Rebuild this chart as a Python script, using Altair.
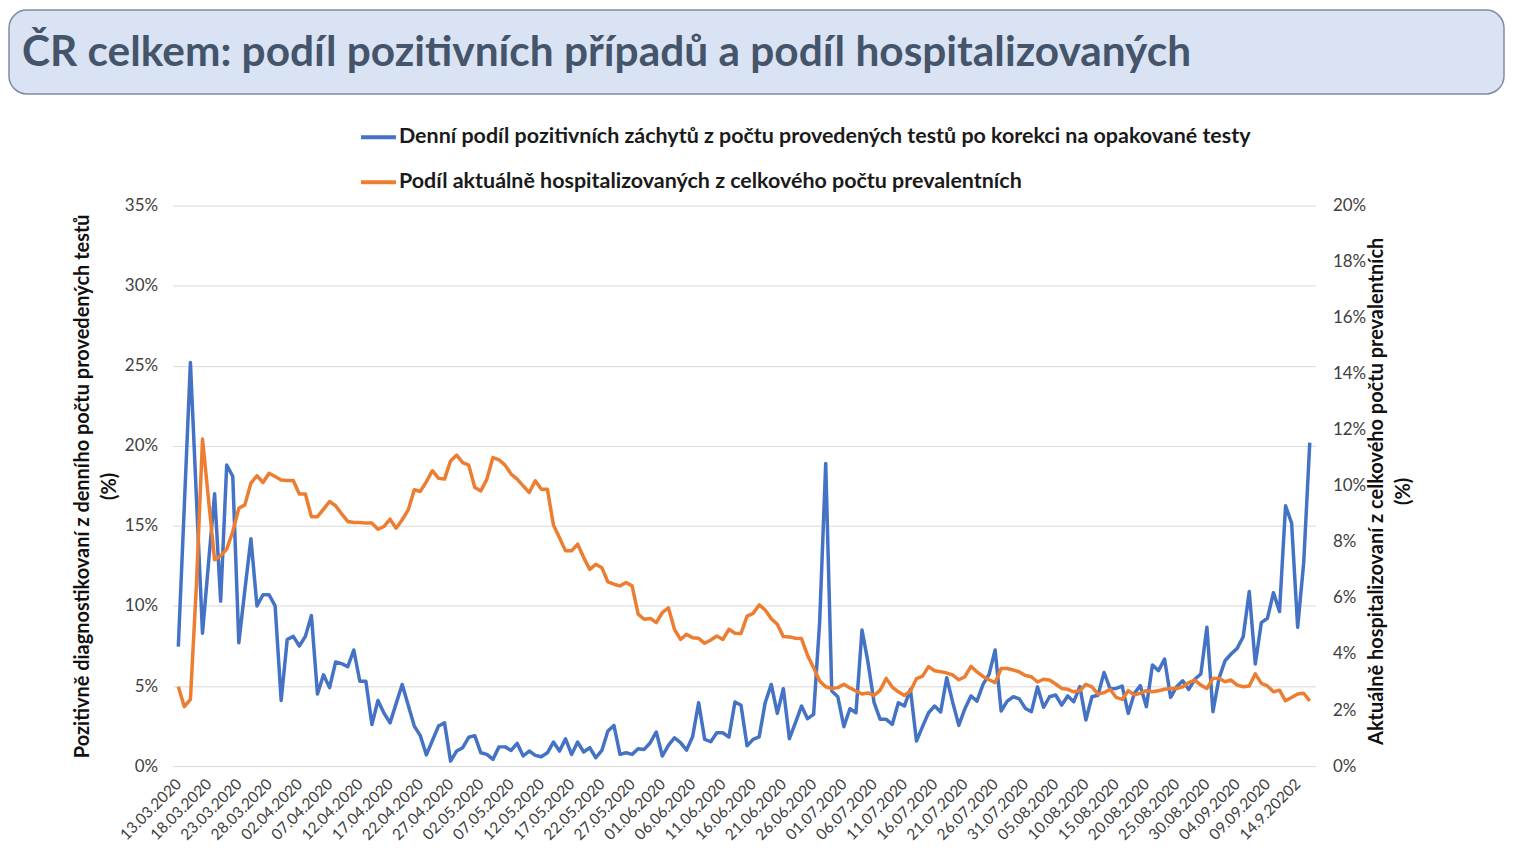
import json
import pandas as pd
import altair as alt

START_DATE = "2020-03-13"
TITLE = "ČR celkem: podíl pozitivních případů a podíl hospitalizovaných"
SERIES_NAMES = [
    "Denní podíl pozitivních záchytů z počtu provedených testů po korekci na opakované testy",
    "Podíl aktuálně hospitalizovaných z celkového počtu prevalentních",
]
SERIES_COLORS = ["#4472c4", "#ed7d31"]

# % of positive tests (left axis)
POSITIVE_SHARE = [
    7.46, 16.3, 25.2, 16.7, 8.3, 12.7, 17.0, 10.3, 18.8, 18.1,
    7.7, 11.0, 14.2, 10.0, 10.7, 10.7, 10.0, 4.1, 7.9, 8.1,
    7.5, 8.1, 9.4, 4.5, 5.7, 4.9, 6.5, 6.4, 6.2, 7.25,
    5.3, 5.3, 2.6, 4.1, 3.3, 2.7, 3.9, 5.1, 3.8, 2.5,
    1.9, 0.7, 1.6, 2.5, 2.7, 0.31, 0.94, 1.15, 1.8, 1.9,
    0.83, 0.73, 0.42, 1.2, 1.2, 0.98, 1.42, 0.63, 0.94, 0.67,
    0.58, 0.83, 1.5, 0.94, 1.7, 0.73, 1.5, 0.88, 1.15, 0.52,
    0.98, 2.19, 2.54, 0.73, 0.83, 0.73, 1.08, 1.04, 1.46, 2.13,
    0.63, 1.29, 1.77, 1.46, 1.0, 1.83, 3.96, 1.67, 1.52, 2.08,
    2.08, 1.81, 4.0, 3.8, 1.27, 1.67, 1.82, 3.96, 5.1, 3.29,
    4.83, 1.71, 2.71, 3.75, 2.96, 3.23, 9.0, 18.9, 4.69, 4.33,
    2.46, 3.58, 3.33, 8.5, 6.46, 3.96, 2.92, 2.92, 2.6, 3.96,
    3.75, 4.79, 1.56, 2.46, 3.33, 3.75, 3.38, 5.52, 3.96, 2.54,
    3.58, 4.38, 4.06, 5.1, 5.73, 7.25, 3.44, 4.06, 4.33, 4.2,
    3.6, 3.4, 4.95, 3.67, 4.33, 4.44, 3.81, 4.38, 4.02, 4.96,
    2.88, 4.33, 4.42, 5.85, 4.83, 4.85, 5.0, 3.29, 4.54, 5.02,
    3.71, 6.31, 5.96, 6.69, 4.29, 4.96, 5.33, 4.79, 5.42, 5.75,
    8.67, 3.4, 5.48, 6.58, 7.0, 7.35, 8.08, 10.9, 6.38, 8.96,
    9.23, 10.83, 9.65, 16.25, 15.17, 8.67, 12.7, 20.2,
]

# % of currently hospitalised (right axis)
HOSPITAL_SHARE = [
    2.83, 2.12, 2.38, 6.5, 11.67, 9.5, 7.36, 7.5, 7.74, 8.37,
    9.2, 9.32, 10.1, 10.36, 10.12, 10.45, 10.33, 10.21, 10.19, 10.19,
    9.71, 9.71, 8.9, 8.9, 9.17, 9.44, 9.29, 9.0, 8.73, 8.69,
    8.69, 8.67, 8.67, 8.45, 8.55, 8.81, 8.49, 8.79, 9.14, 9.86,
    9.8, 10.15, 10.54, 10.27, 10.24, 10.89, 11.1, 10.83, 10.74, 9.94,
    9.82, 10.24, 11.01, 10.93, 10.74, 10.42, 10.24, 10.0, 9.76, 10.18,
    9.88, 9.88, 8.6, 8.15, 7.68, 7.68, 7.92, 7.44, 7.02, 7.2,
    7.08, 6.57, 6.49, 6.43, 6.55, 6.43, 5.42, 5.24, 5.27, 5.12,
    5.48, 5.65, 4.88, 4.52, 4.7, 4.58, 4.56, 4.38, 4.5, 4.64,
    4.52, 4.88, 4.74, 4.73, 5.35, 5.45, 5.75, 5.57, 5.26, 5.06,
    4.62, 4.61, 4.56, 4.55, 3.95, 3.51, 3.04, 2.83, 2.77, 2.8,
    2.92, 2.79, 2.68, 2.57, 2.61, 2.52, 2.71, 3.13, 2.82, 2.65,
    2.52, 2.68, 3.12, 3.21, 3.55, 3.4, 3.37, 3.32, 3.25, 3.08,
    3.19, 3.56, 3.36, 3.2, 3.08, 2.98, 3.48, 3.48, 3.43, 3.36,
    3.23, 3.19, 3.0, 3.1, 3.07, 2.93, 2.77, 2.74, 2.65, 2.69,
    2.92, 2.83, 2.57, 2.62, 2.74, 2.45, 2.38, 2.69, 2.54, 2.6,
    2.69, 2.65, 2.69, 2.74, 2.77, 2.77, 2.83, 2.98, 3.07, 2.89,
    2.77, 3.13, 3.13, 3.01, 3.07, 2.89, 2.83, 2.86, 3.29, 2.95,
    2.86, 2.65, 2.71, 2.33, 2.45, 2.57, 2.6, 2.33,
]

X_TICK_LABELS = [
    "13.03.2020", "18.03.2020", "23.03.2020", "28.03.2020", "02.04.2020",
    "07.04.2020", "12.04.2020", "17.04.2020", "22.04.2020", "27.04.2020",
    "02.05.2020", "07.05.2020", "12.05.2020", "17.05.2020", "22.05.2020",
    "27.05.2020", "01.06.2020", "06.06.2020", "11.06.2020", "16.06.2020",
    "21.06.2020", "26.06.2020", "01.07.2020", "06.07.2020", "11.07.2020",
    "16.07.2020", "21.07.2020", "26.07.2020", "31.07.2020", "05.08.2020",
    "10.08.2020", "15.08.2020", "20.08.2020", "25.08.2020", "30.08.2020",
    "04.09.2020", "09.09.2020", "14.9.20202",
]
LEFT_TICKS = [0, 5, 10, 15, 20, 25, 30, 35]
RIGHT_TICKS = [0, 2, 4, 6, 8, 10, 12, 14, 16, 18, 20]
LEFT_TITLE = ["Pozitivně diagnostikovaní z denního počtu provedených testů", "(%)"]
RIGHT_TITLE = ["Aktuálně hospitalizovaní z celkového počtu prevalentních", "(%)"]

FONT = "Lato"
n = len(POSITIVE_SHARE)
dates = pd.date_range(START_DATE, periods=n).strftime("%d.%m.%Y")
df = pd.concat([
    pd.DataFrame({"day": range(n), "date": dates, "series": SERIES_NAMES[0], "value": POSITIVE_SHARE}),
    pd.DataFrame({"day": range(n), "date": dates, "series": SERIES_NAMES[1], "value": HOSPITAL_SHARE}),
], ignore_index=True)

W, H = 1146, 562

x_enc = alt.X(
    "day:Q",
    scale=alt.Scale(domain=[-0.95, n - 1 + 0.95], nice=False, zero=False),
    axis=alt.Axis(
        values=[i * 5 for i in range(len(X_TICK_LABELS))],
        labelExpr=json.dumps(X_TICK_LABELS, ensure_ascii=False) + "[round(datum.value / 5)]",
        labelAngle=-45, labelAlign="right", labelBaseline="middle",
        labelPadding=15, labelFontSize=15.5, labelOverlap=False,
        grid=False, ticks=False, domain=False, title=None,
    ),
)

color_enc = alt.Color(
    "series:N",
    scale=alt.Scale(domain=SERIES_NAMES, range=SERIES_COLORS),
    legend=alt.Legend(
        title=None, orient="none", legendX=187, legendY=-88, direction="vertical",
        symbolType="stroke", symbolStrokeWidth=4, symbolSize=1225,
        labelFont=FONT, labelFontSize=21.5, labelFontWeight="bold", labelColor="#1a1a1a",
        labelLimit=2000, rowPadding=15, labelOffset=1, padding=0,
    ),
)

blue = alt.Chart(df).transform_filter(
    alt.datum.series == SERIES_NAMES[0]
).mark_line(strokeWidth=3.5, strokeJoin="round").encode(
    x=x_enc,
    y=alt.Y(
        "value:Q",
        scale=alt.Scale(domain=[0, 35], nice=False),
        axis=alt.Axis(
            orient="left", values=LEFT_TICKS, labelExpr="datum.value + '%'",
            grid=True, gridColor="#d9d9d9", ticks=False, domain=False,
            labelPadding=15, labelFontSize=17,
            title=LEFT_TITLE, titleAngle=270, titleX=-100, titleY=H / 2,
            titleAlign="center", titleBaseline="top", titleLineHeight=27,
        ),
    ),
    color=color_enc,
    order="day:Q",
)

orange = alt.Chart(df).transform_filter(
    alt.datum.series == SERIES_NAMES[1]
).mark_line(strokeWidth=3.5, strokeJoin="round").encode(
    x=x_enc,
    y=alt.Y(
        "value:Q",
        scale=alt.Scale(domain=[0, 20], nice=False),
        axis=alt.Axis(
            orient="right", values=RIGHT_TICKS, labelExpr="datum.value + '%'",
            grid=False, ticks=False, domain=False,
            labelPadding=17, labelFontSize=17,
            title=RIGHT_TITLE, titleAngle=270, titleX=51, titleY=H / 2 + 5,
            titleAlign="center", titleBaseline="top", titleLineHeight=27,
        ),
    ),
    color=color_enc,
    order="day:Q",
)

title_df = pd.DataFrame({"t": [TITLE]})
box = alt.Chart(title_df).mark_rect(
    fill="#dae3f3", stroke="#7f8ca3", strokeWidth=1.5, cornerRadius=18
).encode(
    x=alt.value(-164), x2=alt.value(1335), y=alt.value(-196), y2=alt.value(-112)
)
title_txt = alt.Chart(title_df).mark_text(
    align="left", baseline="alphabetic", font=FONT, fontSize=42.5,
    fontWeight="bold", color="#44546a"
).encode(text="t:N", x=alt.value(-151), y=alt.value(-140))

chart = alt.layer(box, title_txt, blue, orange).resolve_scale(
    y="independent"
).properties(
    width=W, height=H, padding=0, background="white"
).configure_view(
    stroke="transparent"
).configure_axis(
    labelFont=FONT, titleFont=FONT, labelColor="#404040",
    titleColor="#111111", titleFontSize=20, titleFontWeight="bold",
)

chart.save("out.html", embed_options={"renderer": "svg", "actions": False})
